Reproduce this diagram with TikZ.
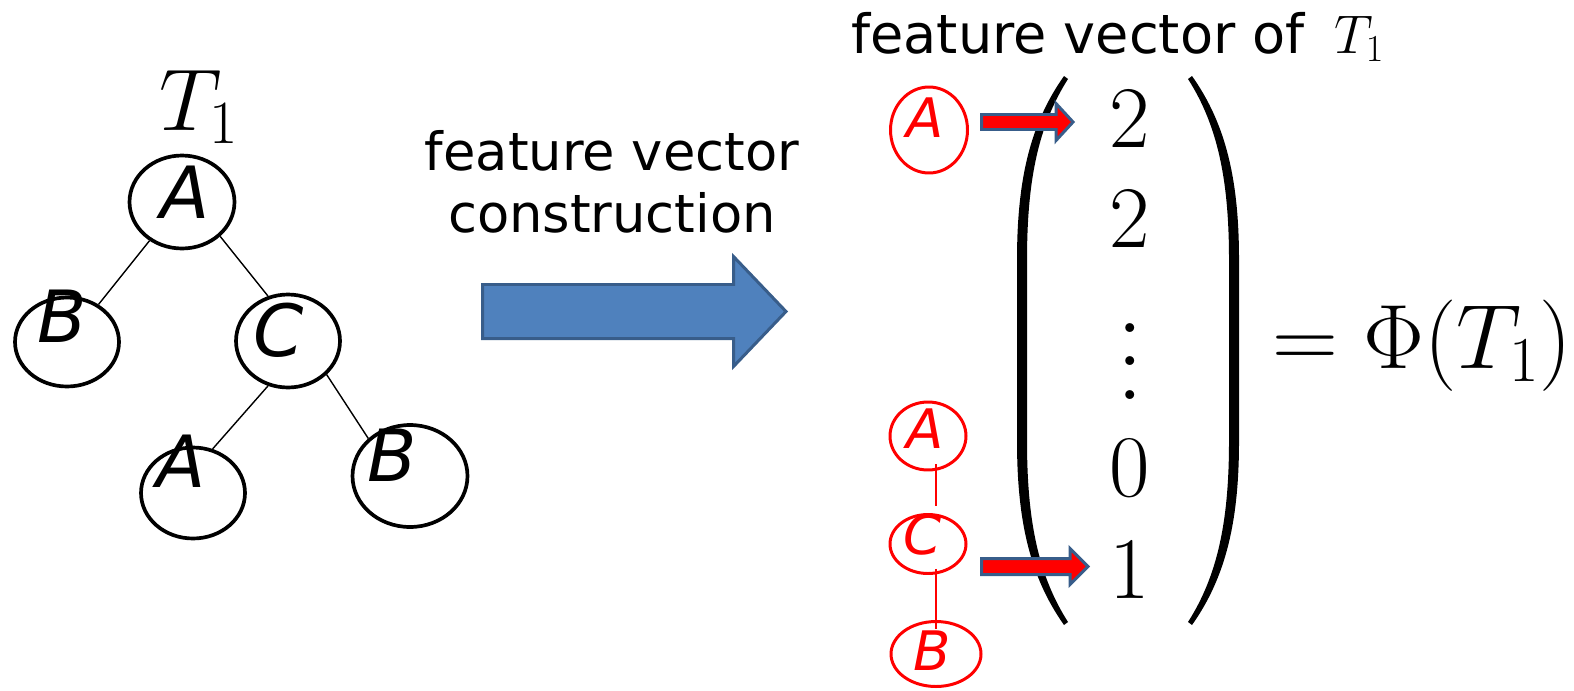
\RequirePackage{fix-cm}
\documentclass[tikz,border=0pt]{standalone}
\usepackage{graphicx}
\usepackage{fontspec}
\newfontfamily\vsans{DejaVu Sans}
\usetikzlibrary{shapes.geometric}
\definecolor{arrowblue}{HTML}{4F81BD}
\definecolor{arrowedge}{HTML}{385D8A}

\begin{document}
\begin{tikzpicture}[x=0.02cm, y=-0.02cm,
  treenode/.style={ellipse, draw, line width=2.1pt, inner sep=0pt},
  treeletter/.style={inner sep=0pt, font=\vsans\itshape\fontsize{41}{41}\selectfont},
  treeedge/.style={line width=0.8pt},
  redcirc/.style={ellipse, draw=red, line width=1.7pt, inner sep=0pt},
  redletter/.style={inner sep=0pt, text=red, font=\vsans\itshape\fontsize{31}{31}\selectfont},
  redline/.style={draw=red, line width=1.1pt},
  blockarrow/.style={draw=arrowedge, line width=1.7pt},
  entry/.style={anchor=base, inner sep=0pt, font=\fontsize{50}{50}\selectfont}]

\useasboundingbox (0,0) rectangle (1574,690);

% tree T_1
\node[anchor=base west, inner sep=0pt, font=\fontsize{50}{50}\selectfont] (tname) at (159,130) {$T_1$};

\node[treenode, minimum width=2.10cm, minimum height=1.86cm] (tA) at (182,202) {};
\node[treenode, minimum width=2.08cm, minimum height=1.78cm] (tB) at (67,342) {};
\node[treenode, minimum width=2.08cm, minimum height=1.86cm] (tC) at (288,341) {};
\node[treenode, minimum width=2.08cm, minimum height=1.82cm] (tA2) at (193,493) {};
\node[treenode, minimum width=2.30cm, minimum height=2.04cm] (tB2) at (410,476) {};

\node[treeletter] (lA) at (185,192) {A};
\node[treeletter] (lB) at (62,316) {B};
\node[treeletter] (lC) at (279,330) {C};
\node[treeletter] (lA2) at (181,461) {A};
\node[treeletter] (lB2) at (392,455) {B};

\draw[treeedge] (tA.230) -- (tB.50);
\draw[treeedge] (tA.318) -- (tC.114);
\draw[treeedge] (tC.246) -- (tA2.66);
\draw[treeedge] (tC.319) -- (tB2.138);

% construction arrow
\node[align=center, font=\vsans\fontsize{30}{35}\selectfont] (constr) at (612,182) {feature vector\\construction};
\draw[blockarrow, fill=arrowblue] (482.5,284.5) -- (733.5,284.5) -- (733.5,256.5) -- (786,311.5)
  -- (733.5,366.5) -- (733.5,338.5) -- (482.5,338.5) -- cycle;

% feature vector
\node[anchor=base west, inner sep=0pt, font=\vsans\fontsize{30.8}{36}\selectfont] (title) at (851,53)
  {feature vector of\hspace{0.55em}{\fontsize{31}{36}\selectfont$T_1$}};

\fill (1064,76) .. controls (1030,124) and (1017,180) .. (1017,260) -- (1017,441)
  .. controls (1017,521) and (1030,577) .. (1064,625) -- (1068,622)
  .. controls (1038,575) and (1027,520) .. (1027,441) -- (1027,260)
  .. controls (1027,181) and (1038,126) .. (1068,79) -- cycle;
\fill (1192,76) .. controls (1226,124) and (1239,180) .. (1239,260) -- (1239,441)
  .. controls (1239,521) and (1226,577) .. (1192,625) -- (1188,622)
  .. controls (1218,575) and (1229,520) .. (1229,441) -- (1229,260)
  .. controls (1229,181) and (1218,126) .. (1188,79) -- cycle;

\foreach \val/\ypos [count=\k] in {2/147, 2/247, 0/496, 1/598}
  \node[entry] (e\k) at (1130,\ypos) {$\val$};
\node[inner sep=0pt, font=\fontsize{10}{12}\selectfont] (vd) at (1130,336) {\scalebox{4.8}{$\vdots$}};

\node[anchor=base west, inner sep=0pt, font=\fontsize{52}{52}\selectfont] (phi) at (1272,368) {$=\Phi(T_1)$};

% subtrees
\node[redcirc, minimum width=1.54cm, minimum height=1.72cm] (rA) at (929,130) {};
\node[redletter] (rlA) at (925,118) {A};

\node[redcirc, minimum width=1.52cm, minimum height=1.36cm] (rA2) at (928,436) {};
\node[redcirc, minimum width=1.52cm, minimum height=1.18cm] (rC) at (928,544) {};
\node[redcirc, minimum width=1.80cm, minimum height=1.30cm] (rB) at (936,654) {};
\node[redletter] (rlA2) at (925,429) {A};
\node[redletter] (rlC) at (922,535) {C};
\node[redletter] (rlB) at (932,651) {B};

\draw[redline] ([shift={(8,-7)}]rA2.south) -- ([shift={(8,-7)}]rC.north);
\draw[redline] ([shift={(8,-6)}]rC.south) -- ([shift={(0,9)}]rB.north);

\draw[blockarrow, fill=red] (981.5,114.5) -- (1056,114.5) -- (1056,103.5) -- (1073,122)
  -- (1056,140.5) -- (1056,129.5) -- (981.5,129.5) -- cycle;
\draw[blockarrow, fill=red] (981.5,558.5) -- (1070,558.5) -- (1070,548.5) -- (1088,566.5)
  -- (1070,584.5) -- (1070,574.5) -- (981.5,574.5) -- cycle;

\end{tikzpicture}
\end{document}
